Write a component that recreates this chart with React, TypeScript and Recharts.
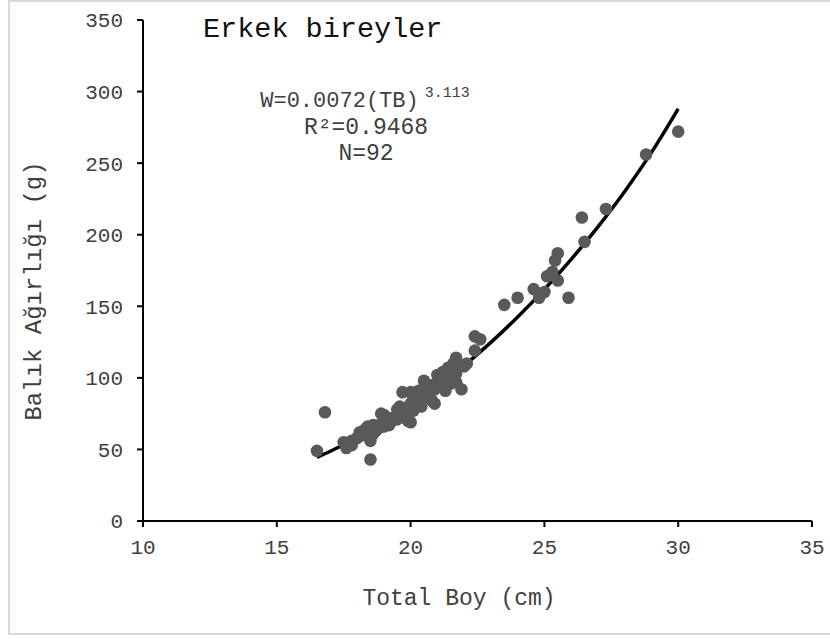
import React from 'react';
import { ComposedChart, Scatter, Line, XAxis, YAxis } from 'recharts';

// total length (cm) of each male fish
const lengths = [
  16.5, 16.8, 17.5, 17.6, 17.8, 17.8, 18.1, 18.2, 18.3, 18.4,
  18.5, 18.5, 18.5, 18.6, 18.7, 18.8, 18.9, 18.9, 19.0, 19.0,
  19.1, 19.2, 19.3, 19.4, 19.5, 19.6, 19.6, 19.7, 19.7, 19.8,
  19.9, 19.9, 20.0, 20.0, 20.1, 20.1, 20.2, 20.2, 20.3, 20.3,
  20.4, 20.5, 20.5, 20.6, 20.7, 20.8, 20.9, 20.9, 21.0, 21.0,
  21.1, 21.2, 21.2, 21.3, 21.4, 21.4, 21.5, 21.6, 21.7, 21.7,
  21.7, 21.9, 22.0, 22.4, 22.4, 22.6, 23.5, 24.0, 24.6, 24.8,
  25.0, 25.1, 25.3, 25.4, 25.5, 25.5, 25.9, 26.4, 26.5, 27.3,
  28.8, 30.0, 18.0, 18.6, 19.2, 19.5, 20.0, 20.6, 20.8, 21.5,
  22.1, 20.4,
];

// body weight (g), same order as lengths
const weights = [
  49, 76, 55, 51, 53, 56, 62, 60, 64, 66,
  56, 59, 43, 67, 63, 65, 75, 68, 74, 66,
  69, 67, 70, 72, 71, 80, 74, 90, 76, 73,
  70, 78, 90, 82, 77, 85, 81, 88, 91, 84,
  86, 98, 93, 89, 87, 95, 82, 92, 102, 97,
  94, 104, 99, 91, 107, 100, 96, 110, 114, 103,
  97, 92, 108, 119, 129, 127, 151, 156, 162, 156,
  160, 171, 174, 182, 187, 168, 156, 212, 195, 218,
  256, 272, 58, 61, 72, 78, 69, 95, 84, 105,
  110, 80,
];

// power fit curve
const fitLengths = [16.5, 17, 18, 19, 20, 21, 22, 23, 24, 25, 26, 27, 28, 29, 30];
const fitWeights = [44.4, 48.7, 58.2, 68.8, 80.7, 94.0, 108.6, 124.8, 142.5, 161.8, 182.8, 205.5, 230.2, 257.5, 288];

const xTicks = [10, 15, 20, 25, 30, 35];
const yTicks = [0, 50, 100, 150, 200, 250, 300, 350];

const points = lengths.map((l, i) => ({ x: l, y: weights[i] }));
const curve = fitLengths.map((l, i) => ({ x: l, y: fitWeights[i] }));

const FONT = '"Liberation Mono", "Courier New", monospace';
const TEXT = '#404040';

const Dot = (props: any) => <circle cx={props.cx} cy={props.cy} r={6.3} fill="#595959" />;

export default function App() {
  return (
    <div style={{ position: 'absolute', left: 0, top: 0, width: 830, height: 639, background: '#fff' }}>
      <ComposedChart width={830} height={639} margin={{ top: 20, right: 18, bottom: 78, left: 83 }}>
        <XAxis
          type="number"
          dataKey="x"
          domain={[10, 35]}
          ticks={xTicks}
          height={40}
          stroke="#000"
          strokeWidth={2}
          tickSize={6}
          tickMargin={12}
          tick={{ fill: TEXT, fontSize: 21, fontFamily: FONT }}
        />
        <YAxis
          type="number"
          dataKey="y"
          domain={[0, 350]}
          ticks={yTicks}
          width={60}
          stroke="#000"
          strokeWidth={2}
          tickSize={6}
          tickMargin={14}
          tick={{ fill: TEXT, fontSize: 21, fontFamily: FONT }}
        />
        <Scatter data={points} dataKey="y" shape={Dot} isAnimationActive={false} />
        <Line
          data={curve}
          dataKey="y"
          type="monotone"
          stroke="#000"
          strokeWidth={3.5}
          dot={false}
          activeDot={false}
          isAnimationActive={false}
        />
      </ComposedChart>
      <svg
        width={830}
        height={639}
        style={{ position: 'absolute', left: 0, top: 0, pointerEvents: 'none' }}
        fontFamily={FONT}
      >
        <rect x={9} y={1} width={830} height={633} fill="none" stroke="#d9d9d9" strokeWidth={2} />
        <text x={203} y={37} fontSize={28.5} fill="#111">Erkek bireyler</text>
        <text x={365} y={107} fontSize={22} fill={TEXT} textAnchor="middle">
          W=0.0072(TB)<tspan fontSize={15} dx={6} dy={-10}>3.113</tspan>
        </text>
        <text x={366} y={134} fontSize={23} fill={TEXT} textAnchor="middle">R²=0.9468</text>
        <text x={366} y={160} fontSize={23} fill={TEXT} textAnchor="middle">N=92</text>
        <text x={459} y={605} fontSize={23} fill={TEXT} textAnchor="middle">Total Boy (cm)</text>
        <text
          x={0}
          y={0}
          fontSize={24}
          fill={TEXT}
          textAnchor="middle"
          transform="translate(41 291) rotate(-90)"
        >
          Balık Ağırlığı (g)
        </text>
      </svg>
    </div>
  );
}
